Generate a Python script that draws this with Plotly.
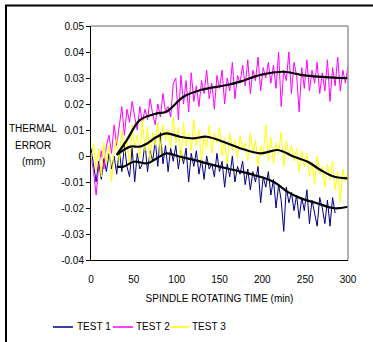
import plotly.graph_objects as go

# ---------------- data ----------------
time_raw = list(range(0, 301, 3))  # minutes

test1 = [0.003, -0.004, -0.010, -0.002, -0.009, -0.001, -0.006, 0.001, -0.005, 0.000,
         -0.007, 0.002, -0.006, 0.004, -0.004, -0.008, 0.003, -0.010, 0.001, -0.005,
         -0.003, 0.005, -0.006, 0.002, -0.002, 0.006, -0.004, 0.009, -0.003, 0.004,
         -0.006, 0.003, -0.002, 0.004, -0.005, 0.002, -0.003, 0.003, -0.010, 0.001,
         -0.004, 0.002, -0.007, -0.001, -0.009, 0.000, -0.005, -0.003, -0.008, 0.001,
         -0.006, -0.002, -0.012, -0.003, -0.008, 0.000, -0.010, -0.004, -0.007, -0.002,
         -0.011, -0.005, -0.013, -0.006, -0.010, -0.004, -0.018, -0.008, -0.012, -0.006,
         -0.015, -0.009, -0.020, -0.011, -0.017, -0.029, -0.012, -0.018, -0.014, -0.021,
         -0.015, -0.024, -0.016, -0.021, -0.013, -0.026, -0.017, -0.022, -0.027, -0.016,
         -0.020, -0.026, -0.017, -0.027, -0.016, -0.022]

test2 = [0.000, -0.006, -0.015, -0.004, 0.002, -0.005, 0.004, 0.008, 0.001, 0.012,
         0.004, 0.011, 0.019, 0.008, 0.018, 0.013, 0.021, 0.015, 0.010, 0.019,
         0.013, 0.018, 0.014, 0.022, 0.016, 0.012, 0.020, 0.015, 0.024, 0.017,
         0.019, 0.015, 0.028, 0.030, 0.014, 0.031, 0.020, 0.029, 0.017, 0.032,
         0.021, 0.027, 0.019, 0.029, 0.024, 0.033, 0.022, 0.028, 0.018, 0.031,
         0.026, 0.033, 0.020, 0.030, 0.025, 0.036, 0.022, 0.031, 0.028, 0.035,
         0.027, 0.037, 0.024, 0.033, 0.029, 0.038, 0.025, 0.034, 0.030, 0.036,
         0.028, 0.035, 0.026, 0.040, 0.019, 0.033, 0.029, 0.040, 0.024, 0.036,
         0.031, 0.017, 0.034, 0.026, 0.037, 0.025, 0.033, 0.028, 0.036, 0.024,
         0.032, 0.025, 0.037, 0.021, 0.034, 0.027, 0.038, 0.025, 0.033, 0.028,
         0.035]

test3 = [-0.002, 0.005, -0.006, 0.003, -0.008, 0.005, -0.003, 0.004, -0.010, 0.002,
         0.007, -0.002, 0.010, 0.001, 0.006, -0.004, 0.012, 0.003, 0.008, -0.001,
         0.014, 0.002, 0.011, -0.003, 0.009, 0.004, 0.013, 0.001, 0.012, 0.006,
         0.010, 0.003, 0.015, 0.005, 0.011, -0.002, 0.013, 0.004, 0.009, 0.002,
         0.014, 0.004, 0.010, -0.002, 0.008, 0.003, 0.012, 0.001, 0.009, 0.005,
         0.011, 0.000, 0.007, -0.003, 0.009, 0.002, 0.006, -0.001, 0.008, 0.003,
         0.005, -0.002, 0.009, 0.001, 0.006, -0.004, 0.004, 0.000, 0.012, -0.002,
         0.007, -0.003, 0.005, 0.001, 0.009, -0.004, 0.006, 0.000, 0.004, -0.002,
         0.003, -0.006, 0.002, -0.004, 0.001, -0.008, -0.002, -0.011, 0.000, -0.007,
         -0.004, -0.012, -0.003, -0.009, -0.002, -0.013, -0.006, -0.018, -0.005, -0.010,
         -0.006]

# smoothed (moving-average) curves
smooth1_t = [30, 38, 50, 66, 77, 88, 104, 120, 143, 167, 190, 213, 229, 245, 264, 284, 300]
smooth1_v = [-0.0041, -0.0041, -0.0022, -0.0028, -0.0009, 0.0010, -0.0003, -0.0015, -0.0035,
             -0.0054, -0.0073, -0.0099, -0.0137, -0.0163, -0.0182, -0.0201, -0.0195]
smooth2_t = [30, 42, 57, 77, 88, 108, 128, 159, 174, 198, 225, 245, 264, 300]
smooth2_v = [0.0004, 0.0062, 0.0138, 0.0164, 0.0170, 0.0228, 0.0254, 0.0273, 0.0286, 0.0312,
             0.0324, 0.0312, 0.0305, 0.0299]
smooth3_t = [30, 46, 57, 66, 77, 88, 104, 120, 135, 159, 174, 198, 218, 237, 253, 268, 284, 300]
smooth3_v = [0.0004, 0.0036, 0.0036, 0.0049, 0.0074, 0.0087, 0.0074, 0.0068, 0.0074, 0.0049,
             0.0030, 0.0010, 0.0023, -0.0003, -0.0022, -0.0054, -0.0080, -0.0086]

y_ticks = [0.05, 0.04, 0.03, 0.02, 0.01, 0, -0.01, -0.02, -0.03, -0.04]
y_tick_text = ["0.05", "0.04", "0.03", "0.02", "0.01", "0", "-0.01", "-0.02", "-0.03", "-0.04"]
x_ticks = [0, 50, 100, 150, 200, 250, 300]

y_title_lines = ["THERMAL", "ERROR", "(mm)"]
series_names = ["TEST 1", "TEST 2", "TEST 3"]
series_colors = ["#000080", "#FF00FF", "#FFFF00"]

# ---------------- figure ----------------
FONT = "Liberation Sans, Arial, sans-serif"
W, H = 373, 342
L, R, T, B = 91, 25, 26, 82
pw, ph = W - L - R, H - T - B


def px(xp):
    return (xp - L) / pw


def py(yp):
    return (H - B - yp) / ph


fig = go.Figure()
raw = [test1, test2, test3]
for name, col, vals in zip(series_names, series_colors, raw):
    fig.add_trace(go.Scatter(x=time_raw[:len(vals)], y=vals, mode="lines", name=name,
                             line=dict(color=col, width=1), showlegend=False))

for t, v in [(smooth1_t, smooth1_v), (smooth2_t, smooth2_v), (smooth3_t, smooth3_v)]:
    fig.add_trace(go.Scatter(x=t, y=v, mode="lines", line=dict(color="black", width=2.2),
                             line_shape="spline", showlegend=False))

shapes = [
    # outer frame (right/bottom cut off)
    dict(type="rect", xref="paper", yref="paper", x0=px(6), x1=px(420), y0=py(400), y1=py(5.5),
         line=dict(color="black", width=2)),
    # gray top and right plot border
    dict(type="line", xref="paper", yref="paper", x0=0, x1=1, y0=1, y1=1,
         line=dict(color="#999999", width=1.5)),
    dict(type="line", xref="paper", yref="paper", x0=1, x1=1, y0=0, y1=1,
         line=dict(color="#999999", width=1.5)),
]

annotations = []
for line_text, yy in zip(y_title_lines, [128, 145, 161]):
    annotations.append(dict(text=line_text, xref="paper", yref="paper", x=px(33), y=py(yy),
                            xanchor="center", yanchor="middle", showarrow=False,
                            font=dict(family=FONT, size=10, color="black")))

# manual legend
leg_y = py(327)
leg_items = [(53, 73, 75), (113, 133, 134), (170, 189, 190)]
for (x0, x1, xt), name, col in zip(leg_items, series_names, series_colors):
    shapes.append(dict(type="line", xref="paper", yref="paper", x0=px(x0), x1=px(x1),
                       y0=leg_y, y1=leg_y, line=dict(color=col, width=1.5)))
    annotations.append(dict(text=name, xref="paper", yref="paper", x=px(xt), y=leg_y,
                            xanchor="left", yanchor="middle", showarrow=False,
                            font=dict(family=FONT, size=10, color="black")))

fig.update_layout(
    width=W, height=H,
    margin=dict(l=L, r=R, t=T, b=B),
    paper_bgcolor="white", plot_bgcolor="white",
    font=dict(family=FONT, size=10, color="black"),
    shapes=shapes, annotations=annotations,
    xaxis=dict(range=[0, 300], tickvals=x_ticks, showgrid=False, zeroline=False,
               showline=True, linecolor="black", linewidth=1, ticks="",
               ticklabelstandoff=10,
               title=dict(text="SPINDLE ROTATING TIME (min)", standoff=10,
                          font=dict(family=FONT, size=10))),
    yaxis=dict(range=[-0.04, 0.05], tickvals=y_ticks, ticktext=y_tick_text, showgrid=False,
               zeroline=False, showline=True, linecolor="black", linewidth=1,
               ticks="outside", ticklen=4, tickcolor="black"),
)

fig.write_html("out.html", config={"displayModeBar": False},
               post_script="document.body.style.margin='0';document.body.style.overflow='hidden';")
